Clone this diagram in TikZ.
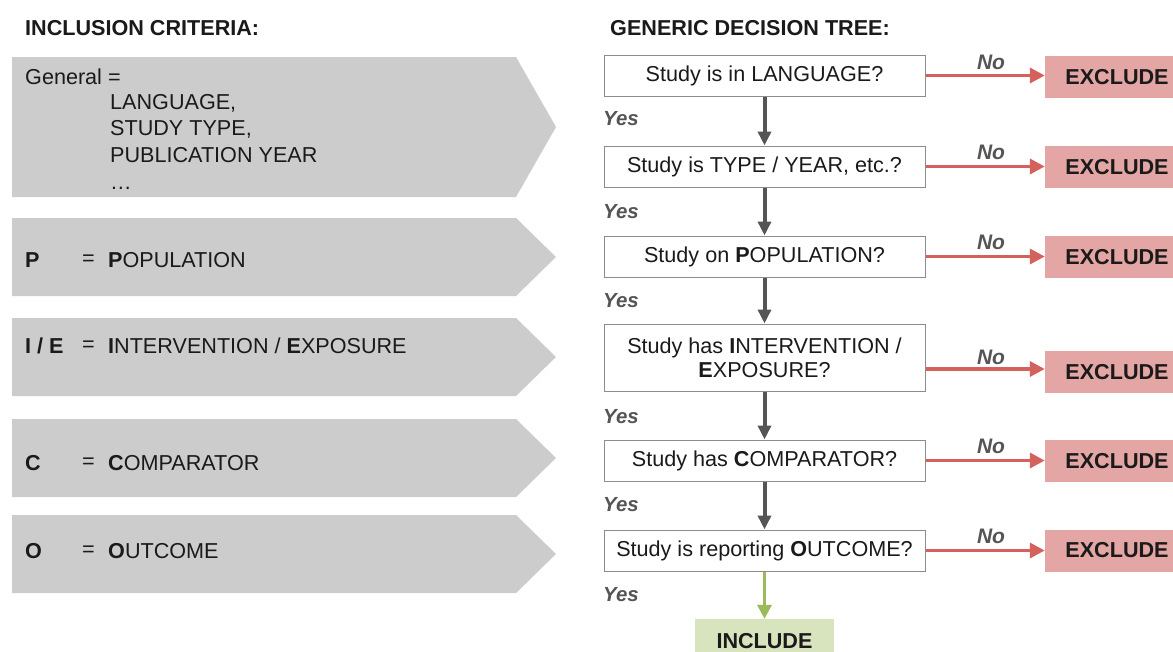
\documentclass[tikz,border=0pt]{standalone}
\usepackage{fontspec}
\setmainfont{Liberation Sans}
\usetikzlibrary{arrows.meta}
\definecolor{chev}{HTML}{CCCCCC}
\definecolor{exfill}{HTML}{E4A6A4}
\definecolor{noarrow}{HTML}{D4615C}
\definecolor{infill}{HTML}{D8E4BE}
\definecolor{yesarrow}{HTML}{9BBB59}
\definecolor{darkarrow}{HTML}{555555}
\definecolor{lbl}{HTML}{555555}
\definecolor{boxline}{HTML}{8C8C8C}
\definecolor{txt}{HTML}{1A1A1A}
\begin{document}
\begin{tikzpicture}[x=1pt,y=-1pt,
  chevshape/.style={fill=chev},
  ctext/.style={anchor=west,inner sep=0pt,text=txt,font=\fontsize{21.6}{26}\selectfont},
  header/.style={anchor=west,inner sep=0pt,text=txt,font=\bfseries\fontsize{21.6}{24}\selectfont},
  qbox/.style={draw=boxline,line width=1pt,fill=white,minimum width=321pt,minimum height=41pt,inner sep=0pt,align=center,text=txt,font=\fontsize{21.6}{24}\selectfont},
  exbox/.style={fill=exfill,minimum width=144pt,minimum height=42pt,inner sep=0pt,text=txt,font=\bfseries\fontsize{21.6}{24}\selectfont},
  inbox/.style={fill=infill,minimum width=139pt,minimum height=44pt,inner sep=0pt,text=txt,font=\bfseries\fontsize{21.6}{24}\selectfont},
  yeslbl/.style={anchor=west,inner sep=0pt,text=lbl,font=\bfseries\itshape\fontsize{20.4}{22}\selectfont},
  nolbl/.style={inner sep=0pt,text=lbl,font=\bfseries\itshape\fontsize{21}{22}\selectfont},
  yesarr/.style={draw=darkarrow,line width=4pt,-{Triangle[length=14pt,width=13pt]}},
  noarr/.style={draw=noarrow,line width=3.5pt,-{Triangle[length=15pt,width=15pt]}},
  okarr/.style={draw=yesarrow,line width=3.5pt,-{Triangle[length=14pt,width=14pt]}}
]
\useasboundingbox (0,0) rectangle (1173,651);
\fill[white] (0,0) rectangle (1173,651);

% headers
\node[header] (h1) at (25,28) {INCLUSION CRITERIA:};
\node[header] (h2) at (610,28) {GENERIC DECISION TREE:};

% chevrons
\fill[chevshape] (12,57) -- (516,57) -- (556,127) -- (516,197) -- (12,197) -- cycle;
\fill[chevshape] (12,218) -- (516,218) -- (556,257) -- (516,296) -- (12,296) -- cycle;
\fill[chevshape] (12,318) -- (516,318) -- (556,357) -- (516,396) -- (12,396) -- cycle;
\fill[chevshape] (12,419) -- (516,419) -- (556,458) -- (516,497) -- (12,497) -- cycle;
\fill[chevshape] (12,515) -- (516,515) -- (556,554) -- (516,593) -- (12,593) -- cycle;

\node[ctext] (g0) at (25,77) {General =};
\node[ctext] (g1) at (110,103) {LANGUAGE,};
\node[ctext] (g2) at (110,129) {STUDY TYPE,};
\node[ctext] (g3) at (110,155) {PUBLICATION YEAR};
\node[ctext,anchor=base west] (g4) at (110,189) {…};

\node[ctext] (pk) at (25,260) {\textbf{P}};
\node[ctext] (pe) at (82,260) {=};
\node[ctext] (pv) at (108,260) {\textbf{P}OPULATION};

\node[ctext] (ik) at (25,346) {\textbf{I / E}};
\node[ctext] (ie) at (82,346) {=};
\node[ctext] (iv) at (108,346) {\textbf{I}NTERVENTION / \textbf{E}XPOSURE};

\node[ctext] (ck) at (25,463) {\textbf{C}};
\node[ctext] (ce) at (82,463) {=};
\node[ctext] (cv) at (108,463) {\textbf{C}OMPARATOR};

\node[ctext] (ok) at (25,551) {\textbf{O}};
\node[ctext] (oe) at (82,551) {=};
\node[ctext] (ov) at (108,551) {\textbf{O}UTCOME};

% decision boxes
\node[qbox] (q1) at (764.5,75.5) {Study is in LANGUAGE?};
\node[qbox] (q2) at (764.5,166.5) {Study is TYPE / YEAR, etc.?};
\node[qbox] (q3) at (764.5,256.5) {Study on \textbf{P}OPULATION?};
\node[qbox,minimum height=67pt] (q4) at (764.5,357.5) {Study has \textbf{I}NTERVENTION /\\\textbf{E}XPOSURE?};
\node[qbox] (q5) at (764.5,460.5) {Study has \textbf{C}OMPARATOR?};
\node[qbox] (q6) at (764.5,550.5) {Study is reporting \textbf{O}UTCOME?};

% exclude boxes
\node[exbox] (e1) at (1117,77) {EXCLUDE};
\node[exbox] (e2) at (1117,167) {EXCLUDE};
\node[exbox] (e3) at (1117,257) {EXCLUDE};
\node[exbox] (e4) at (1117,372) {EXCLUDE};
\node[exbox] (e5) at (1117,461) {EXCLUDE};
\node[exbox] (e6) at (1117,550.5) {EXCLUDE};

\node[inbox] (inc) at (764.5,641) {INCLUDE};

% yes arrows
\draw[yesarr] (q1.south) -- (q2.north);
\draw[yesarr] (q2.south) -- (q3.north);
\draw[yesarr] (q3.south) -- (q4.north);
\draw[yesarr] (q4.south) -- (q5.north);
\draw[yesarr] (q5.south) -- (q6.north);
\draw[okarr] (q6.south) -- (inc.north);

% no arrows
\draw[noarr] (q1.east) -- (e1.west |- q1.east);
\draw[noarr] (q2.east) -- (e2.west |- q2.east);
\draw[noarr] (q3.east) -- (e3.west |- q3.east);
\draw[noarr] (q4.east |- 0,369) -- (e4.west |- 0,369);
\draw[noarr] (q5.east) -- (e5.west |- q5.east);
\draw[noarr] (q6.east) -- (e6.west |- q6.east);

% labels
\node[yeslbl] (y1) at (603,119) {Yes};
\node[yeslbl] (y2) at (603,212) {Yes};
\node[yeslbl] (y3) at (603,301) {Yes};
\node[yeslbl] (y4) at (603,417) {Yes};
\node[yeslbl] (y5) at (603,505) {Yes};
\node[yeslbl] (y6) at (603,595) {Yes};

\node[nolbl] (n1) at (991,62) {No};
\node[nolbl] (n2) at (991,152) {No};
\node[nolbl] (n3) at (991,242) {No};
\node[nolbl] (n4) at (991,357) {No};
\node[nolbl] (n5) at (991,446) {No};
\node[nolbl] (n6) at (991,536) {No};
\end{tikzpicture}
\end{document}
